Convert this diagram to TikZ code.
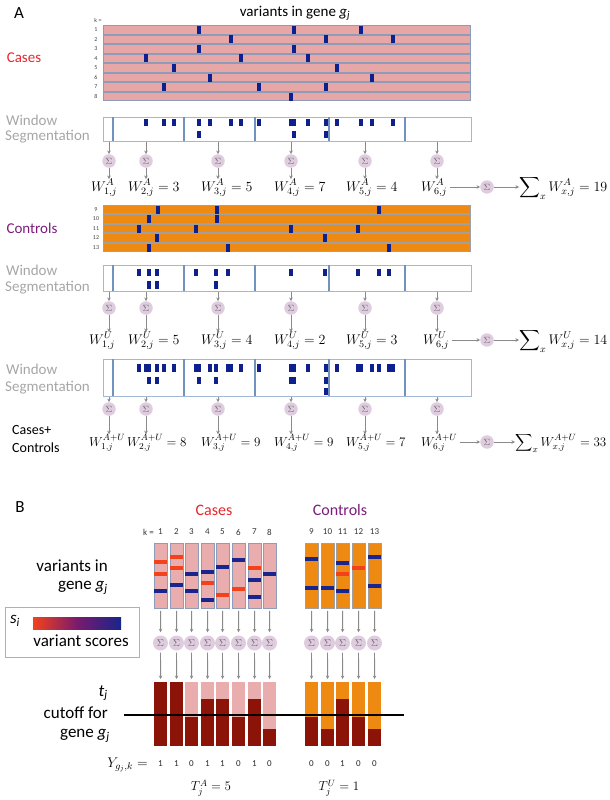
\documentclass[tikz,border=0pt]{standalone}
\usepackage{fix-cm}
\usepackage{exscale}
\usepackage[no-math]{fontspec}
\setmainfont{Carlito}
\usetikzlibrary{arrows.meta}
\definecolor{rowpink}{HTML}{E8A7A7}
\definecolor{rowedge}{HTML}{8E9CBA}
\definecolor{roworange}{HTML}{EE8A12}
\definecolor{orangeedge}{HTML}{A0A0A0}
\definecolor{markblue}{HTML}{0E1F8E}
\definecolor{winedge}{HTML}{A3B8D6}
\definecolor{windiv}{HTML}{6F92BE}
\definecolor{sigfill}{HTML}{DFCCDF}
\definecolor{sigtext}{HTML}{6A6A6A}
\definecolor{arrgray}{HTML}{8A8A8A}
\definecolor{casered}{HTML}{E8262C}
\definecolor{ctrlpurple}{HTML}{7B1C7B}
\definecolor{wintext}{HTML}{A6A6A6}
\definecolor{darkred}{HTML}{8C1307}
\definecolor{varred}{HTML}{F2421C}
\definecolor{varblue}{HTML}{18258C}
\definecolor{varmid}{HTML}{7A1A6E}
\definecolor{barpink}{HTML}{E9ADAD}
\definecolor{legedge}{HTML}{B0B0B0}
\tikzset{
  sig/.style={circle, fill=sigfill, inner sep=0pt, minimum size=13.5pt, text=sigtext, font=\fontsize{9}{9}\selectfont},
  bsig/.style={sig, minimum size=15pt, font=\fontsize{10}{10}\selectfont},
  arr/.style={draw=arrgray, line width=0.9pt, -{Stealth[length=3.5pt,width=3.5pt]}},
  wlab/.style={anchor=base west, inner sep=0pt, font=\fontsize{14}{14}\selectfont},
  wlabc/.style={wlab, font=\fontsize{13}{13}\selectfont},
  biglab/.style={inner sep=0pt, font=\fontsize{15}{15}\selectfont},
  winlab/.style={inner sep=0pt, anchor=west, text=wintext, font=\fontsize{15}{15}\selectfont},
  rownum/.style={inner sep=0pt, font=\fontsize{6}{6}\selectfont, text=black!75},
  winbox/.style={draw=winedge, line width=0.9pt, fill=white, anchor=north west, inner sep=0pt, minimum width=368pt},
  blab/.style={inner sep=0pt, anchor=east, font=\fontsize{17}{17}\selectfont},
  knum/.style={inner sep=0pt, font=\fontsize{9}{9}\selectfont, text=black!80},
  yval/.style={inner sep=0pt, font=\fontsize{9}{9}\selectfont, text=black!85},
  tbarA/.style={rectangle, anchor=north west, minimum width=13pt, minimum height=65pt, inner sep=0pt, fill=barpink, draw=rowedge, line width=0.8pt},
  tbarU/.style={rectangle, anchor=north west, minimum width=13pt, minimum height=65pt, inner sep=0pt, fill=roworange, draw=orangeedge, line width=0.8pt},
  bbarA/.style={rectangle, anchor=north west, minimum width=13pt, minimum height=64pt, inner sep=0pt, fill=barpink},
  bbarU/.style={rectangle, anchor=north west, minimum width=13pt, minimum height=64pt, inner sep=0pt, fill=roworange},
  barr/.style={arr, shorten >=3pt, shorten <=2pt}
}
\begin{document}
\begin{tikzpicture}[x=1pt,y=-1pt]
\useasboundingbox (0,0) rectangle (610,800);

%% ================= PANEL A =================
\node[inner sep=0pt, font=\fontsize{17}{17}\selectfont] (labA) at (19,13) {A};
\node[biglab] (title) at (295,13) {variants in gene \textit{g}\textsubscript{\textit{j}}};
\node[biglab, text=casered] (casesA) at (24,58) {Cases};

% --- case rows
\node[rownum] (kk) at (98,20) {k =};
\foreach \k/\yy/\m in {1/30/{199,294,361},2/39.5/{231,326,393},3/49/{199,294},4/58.5/{146,241,308},5/68/{174,337},6/77.5/{210,372},7/87/{164,259,326},8/96.5/{291}}{
  \node[rownum] (rn\k) at (96,\yy) {\k};
  \draw[fill=rowpink, draw=rowedge, line width=1pt] (103,\yy-4.25) rectangle (470,\yy+4.25);
  \foreach \x in \m {\fill[markblue] (\x-1.8,\yy-4) rectangle (\x+1.8,\yy+4);}
}

% --- case window segmentation
\node[winlab] (winA1) at (6,120) {Window};
\node[winlab] (winA2) at (5,137) {Segmentation};
\node[winbox, minimum height=24pt] (wbA) at (103,117) {};
\foreach \d in {113,184,255,329,405} \draw[windiv, line width=1.1pt] (\d,117) -- (\d,141);
\foreach \x in {146,164,174,199,210,231,241,259,291,294,308,326,337,361,372,393}
  \fill[markblue] (\x-1.6,118.5) rectangle (\x+1.6,125.5);
\foreach \x in {199,294,326}
  \fill[markblue] (\x-1.6,130.5) rectangle (\x+1.6,137.5);

\foreach \i/\sx in {1/109,2/146,3/218,4/291,5/365,6/437}{
  \node[sig] (sa\i) at (\sx,161) {$\Sigma$};
  \draw[arr] (sa\i |- wbA.south) -- (sa\i);
}
\node[wlab] (wa1) at (109-18,191) {$W^{A}_{1,j}$};
\node[wlab] (wa2) at (146-18,191) {$W^{A}_{2,j} = 3$};
\node[wlab] (wa3) at (218-17,191) {$W^{A}_{3,j} = 5$};
\node[wlab] (wa4) at (291-17,191) {$W^{A}_{4,j} = 7$};
\node[wlab] (wa5) at (365-19,191) {$W^{A}_{5,j} = 4$};
\node[wlab] (wa6) at (437-16,191) {$W^{A}_{6,j}$};
\foreach \i in {1,...,6} \draw[arr] (sa\i) -- (sa\i |- wa\i.north);
\node[sig] (sA) at (487,187) {$\Sigma$};
\draw[arr, shorten <=3pt] (wa6.east |- sA) -- (sA);
\node[wlab] (sumA) at (519,191) {$\displaystyle\sum\nolimits_{x} W^{A}_{x,j} = 19$};
\draw[arr] (sA) -- (sA -| sumA.west);

% --- control rows
\node[biglab, text=ctrlpurple] (ctrlA) at (32,228) {Controls};
\foreach \k/\yy/\m in {9/209.5/{158,217,379},10/219/{149,217},11/228.5/{139,196,291,358},12/238/{157,325},13/247.5/{149,228,389}}{
  \node[rownum] (rn\k) at (96,\yy) {\k};
  \draw[fill=roworange, draw=orangeedge, line width=1pt] (103,\yy-4.3) rectangle (470,\yy+4.3);
  \foreach \x in \m {\fill[markblue] (\x-1.8,\yy-4) rectangle (\x+1.8,\yy+4);}
}

% --- control window segmentation
\node[winlab] (winU1) at (6,270) {Window};
\node[winlab] (winU2) at (5,288) {Segmentation};
\node[winbox, minimum height=26pt] (wbU) at (103,265) {};
\foreach \d in {113,184,255,329,405} \draw[windiv, line width=1.1pt] (\d,265) -- (\d,291);
\foreach \x in {139,149,157,196,216,228,291,325,358,379,389}
  \fill[markblue] (\x-1.6,268.5) rectangle (\x+1.6,276);
\foreach \x in {149,157,216}
  \fill[markblue] (\x-1.6,281) rectangle (\x+1.6,288.5);

\foreach \i/\sx in {1/109,2/146,3/218,4/291,5/365,6/437}{
  \node[sig] (su\i) at (\sx,308) {$\Sigma$};
  \draw[arr] (su\i |- wbU.south) -- (su\i);
}
\node[wlab] (wu1) at (109-20,344) {$W^{U}_{1,j}$};
\node[wlab] (wu2) at (146-18,344) {$W^{U}_{2,j} = 5$};
\node[wlab] (wu3) at (218-17,344) {$W^{U}_{3,j} = 4$};
\node[wlab] (wu4) at (291-17,344) {$W^{U}_{4,j} = 2$};
\node[wlab] (wu5) at (365-19,344) {$W^{U}_{5,j} = 3$};
\node[wlab] (wu6) at (437-14,344) {$W^{U}_{6,j}$};
\foreach \i in {1,...,6} \draw[arr] (su\i) -- (su\i |- wu\i.north);
\node[sig] (sU) at (487,340) {$\Sigma$};
\draw[arr, shorten <=3pt] (wu6.east |- sU) -- (sU);
\node[wlab] (sumU) at (519,344) {$\displaystyle\sum\nolimits_{x} W^{U}_{x,j} = 14$};
\draw[arr] (sU) -- (sU -| sumU.west);

% --- combined window segmentation
\node[winlab] (winC1) at (6,369) {Window};
\node[winlab] (winC2) at (5,388) {Segmentation};
\node[winbox, minimum height=37pt] (wbC) at (103,359) {};
\foreach \d in {113,184,255,329,405} \draw[windiv, line width=1.1pt] (\d,359) -- (\d,396);
\foreach \x in {139,146,149,157,164,174,196,199,210,216,228,231,241,259,291,294,308,326,337,358,361,372,379,389,393}
  \fill[markblue] (\x-1.7,364) rectangle (\x+1.7,371.5);
\foreach \x in {149,157,199,216,291,294,326}
  \fill[markblue] (\x-1.7,376.5) rectangle (\x+1.7,384);
\foreach \x in {326}
  \fill[markblue] (\x-1.7,387.5) rectangle (\x+1.7,394.5);

\foreach \i/\sx in {1/109,2/146,3/218,4/291,5/365,6/437}{
  \node[sig] (sc\i) at (\sx,409) {$\Sigma$};
  \draw[arr] (sc\i |- wbC.south) -- (sc\i);
}
\node[inner sep=0pt, anchor=west, font=\fontsize{14}{14}\selectfont] (cc1) at (12,430) {Cases+};
\node[inner sep=0pt, anchor=west, font=\fontsize{14}{14}\selectfont] (cc2) at (12,448) {Controls};
\node[wlabc] (wc1) at (109-20,446) {$W^{A+U}_{1,j}$};
\node[wlabc] (wc2) at (146-19,446) {$W^{A+U}_{2,j} = 8$};
\node[wlabc] (wc3) at (218-17,446) {$W^{A+U}_{3,j} = 9$};
\node[wlabc] (wc4) at (291-17,446) {$W^{A+U}_{4,j} = 9$};
\node[wlabc] (wc5) at (365-19,446) {$W^{A+U}_{5,j} = 7$};
\node[wlabc] (wc6) at (437-16,446) {$W^{A+U}_{6,j}$};
\foreach \i in {1,...,6} \draw[arr] (sc\i) -- (sc\i |- wc\i.north);
\node[sig] (sC) at (487,442) {$\Sigma$};
\draw[arr, shorten <=3pt] (wc6.east |- sC) -- (sC);
\node[wlabc] (sumC) at (515,446) {$\displaystyle\sum\nolimits_{x} W^{A+U}_{x,j} = 33$};
\draw[arr] (sC) -- (sC -| sumC.west);

%% ================= PANEL B =================
\node[inner sep=0pt, font=\fontsize{17}{17}\selectfont] (labB) at (20,507) {B};
\node[inner sep=0pt, text=casered, font=\fontsize{16}{16}\selectfont] (casesB) at (214,510) {Cases};
\node[inner sep=0pt, text=ctrlpurple, font=\fontsize{16}{16}\selectfont] (ctrlB) at (340,510) {Controls};
\node[knum, anchor=east] (kB) at (154,532) {k =};

\foreach \i/\x/\dt/\yv/\m in {
  1/154/682/1/{varred/562,varred/574,varblue/591},
  2/170/682/1/{varred/557,varred/568,varblue/585},
  3/185/717/0/{varblue/574,varblue/591},
  4/201/699/1/{varblue/572,varred/583,varblue/600},
  5/216/699/1/{varblue/567,varred/595},
  6/232/717/0/{varblue/560,varred/589},
  7/248/699/1/{varred/568,varblue/580,varblue/597},
  8/263/729/0/{varblue/574}}{
  \node[knum] (kn\i) at (\x+6.5,532) {\i};
  \node[tbarA] (tb\i) at (\x,543) {};
  \foreach \c/\yy in \m {\fill[\c] (\x,\yy-2) rectangle (\x+13,\yy+2);}
  \node[bsig] (bs\i) at (\x+6.5,643) {$\Sigma$};
  \node[bbarA] (bb\i) at (\x,682) {};
  \fill[darkred] (\x,\dt) rectangle (\x+13,746);
  \draw[barr] (tb\i) -- (bs\i);
  \draw[barr] (bs\i) -- (bb\i);
  \node[yval] (yv\i) at (\x+6.5,764) {\yv};
}
\foreach \i/\x/\dt/\yv/\m in {
  9/305/717/0/{varblue/559,varblue/588},
  10/321/729/0/{varblue/588},
  11/336/699/1/{varblue/563,varred/574,varblue/591},
  12/352/717/0/{varred/568},
  13/368/729/0/{varblue/557,varblue/586}}{
  \node[knum] (kn\i) at (\x+6.5,532) {\i};
  \node[tbarU] (tb\i) at (\x,543) {};
  \foreach \c/\yy in \m {\fill[\c] (\x,\yy-2) rectangle (\x+13,\yy+2);}
  \node[bsig] (bs\i) at (\x+6.5,643) {$\Sigma$};
  \node[bbarU] (bb\i) at (\x,682) {};
  \fill[darkred] (\x,\dt) rectangle (\x+13,746);
  \draw[barr] (tb\i) -- (bs\i);
  \draw[barr] (bs\i) -- (bb\i);
  \node[yval] (yv\i) at (\x+6.5,764) {\yv};
}

% cutoff line
\coordinate (cutL) at (124,715);
\coordinate (cutR) at (404,715);
\draw[black, line width=1.3pt] (cutL) -- (cutR);

% left labels
\node[blab] (vin) at (108,566) {variants in};
\node[blab] (vgene) at (108,588) {gene \textit{g}\textsubscript{\textit{j}}};
\node[draw=legedge, line width=0.8pt, anchor=north west, minimum width=134pt, minimum height=50pt, inner sep=0pt] (leg) at (5,607) {};
\node[inner sep=0pt, font=\fontsize{17}{17}\selectfont] (si) at (15,621) {\textit{s}\textsubscript{\textit{i}}};
\shade[left color=varred, right color=varblue, middle color=varmid] (33,617) rectangle (121,629);
\node[inner sep=0pt, font=\fontsize{17}{17}\selectfont] (vsc) at (81,641) {variant scores};
\node[blab] (tj) at (108,693) {\textit{t}\textsubscript{\textit{j}}};
\node[blab] (cutf) at (108,713) {cutoff for};
\node[blab] (cgene) at (110,736) {gene \textit{g}\textsubscript{\textit{j}}};

\node[inner sep=0pt, anchor=base east, font=\fontsize{14}{14}\selectfont] (Ylab) at (148,767) {$Y_{g_j,k} =$};
\node[inner sep=0pt, font=\fontsize{13}{13}\selectfont] (TA) at (211,788) {$T^{A}_{j} = 5$};
\node[inner sep=0pt, font=\fontsize{13}{13}\selectfont] (TU) at (339,788) {$T^{U}_{j} = 1$};
\end{tikzpicture}
\end{document}
